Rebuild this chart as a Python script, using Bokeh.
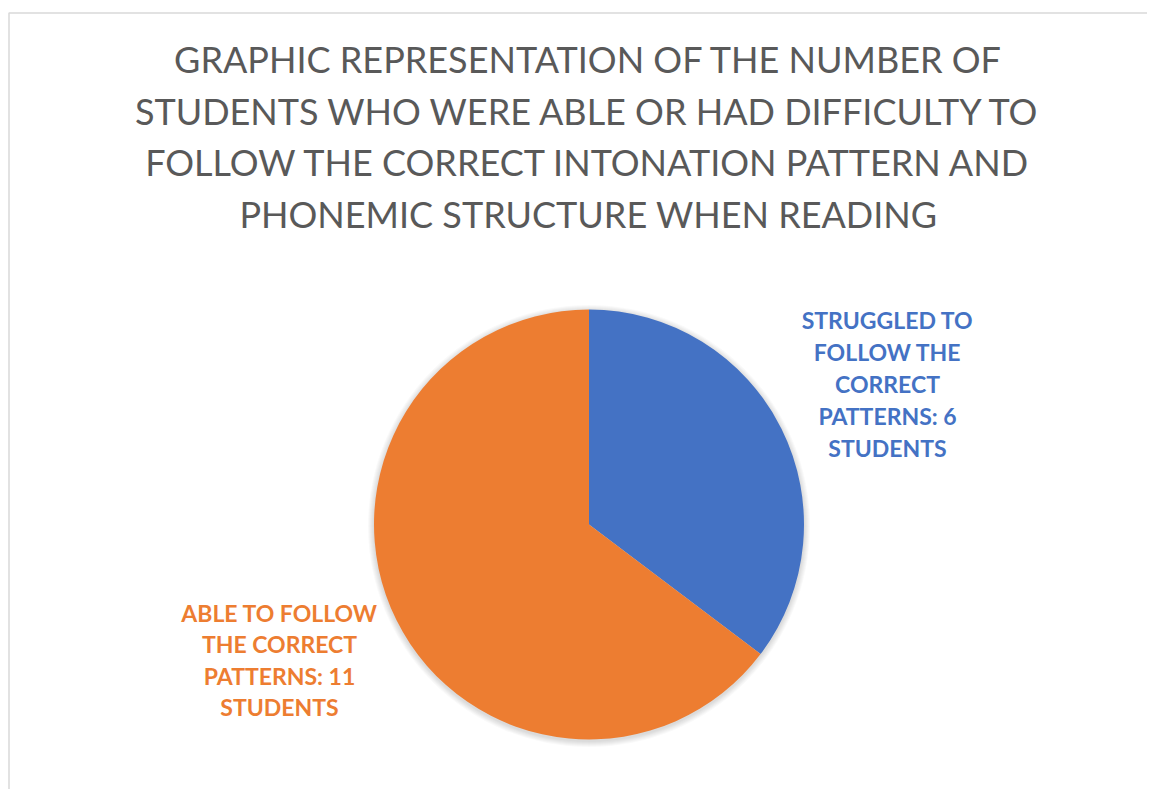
from bokeh.plotting import figure
from bokeh.models import Range1d
from bokeh.core.properties import value
from bokeh.embed import file_html
from bokeh.resources import INLINE
import math

# ---- data ----
categories = ["STRUGGLED TO FOLLOW THE CORRECT PATTERNS", "ABLE TO FOLLOW THE CORRECT PATTERNS"]
students = [6, 11]
label_lines = [
    ["STRUGGLED TO", "FOLLOW THE", "CORRECT", "PATTERNS: 6", "STUDENTS"],
    ["ABLE TO FOLLOW", "THE CORRECT", "PATTERNS: 11", "STUDENTS"],
]
title_lines = [
    "GRAPHIC REPRESENTATION OF THE NUMBER OF",
    "STUDENTS WHO WERE ABLE OR HAD DIFFICULTY TO",
    "FOLLOW THE CORRECT INTONATION PATTERN AND",
    "PHONEMIC STRUCTURE WHEN READING",
]

# ---- style / layout ----
colors = ["#4472C4", "#ED7D31"]
W, H = 1147, 789
OFF = 0  # page offset of the canvas


def X(px):
    return px - OFF


def Y(py):
    return H - (py - OFF)


p = figure(width=W, height=H, x_range=Range1d(0, W), y_range=Range1d(0, H),
           toolbar_location=None, output_backend="svg", min_border=0)
p.min_border_left = p.min_border_right = p.min_border_top = p.min_border_bottom = 0
p.axis.visible = False
p.grid.visible = False
p.outline_line_color = None
p.background_fill_color = "white"

# chart border (top and left visible)
p.line([X(8.5), X(8.5), X(1160)], [Y(800), Y(12.5), Y(12.5)], line_color="#d9d9d9", line_width=1.5)

# title
tys = [58, 110, 161, 213]
p.text(x=[X(588)] * len(title_lines), y=[Y(t) for t in tys], text=title_lines,
       text_align="center", text_baseline="alphabetic", text_color="#595959",
       text_font=value("Lato"), text_font_size="36px")

# pie
cx, cy, r = X(588.5), Y(524), 215
# soft shadow
for k in range(1, 7):
    p.circle(x=[cx], y=[cy - 1.5], radius=r + k, fill_color="#000000",
             fill_alpha=0.025, line_color=None)

total = sum(students)
angles = []
a = math.pi / 2
for v in students:
    e = a - 2 * math.pi * v / total
    angles.append((a, e))
    a = e
p.wedge(x=[cx] * len(students), y=[cy] * len(students), radius=r,
        start_angle=[s for s, e in angles], end_angle=[e for s, e in angles],
        direction="clock", fill_color=colors, line_color=None)

# data labels
label_pos = [(887, [319, 351, 383, 415, 447]), (279, [612, 643, 675, 706])]
for lines, (lx, lys), c in zip(label_lines, label_pos, colors):
    p.text(x=[X(lx)] * len(lines), y=[Y(t) for t in lys], text=lines,
           text_align="center", text_baseline="alphabetic", text_color=c,
           text_font=value("Lato"), text_font_style="bold", text_font_size="23px")

open("out.html", "w").write(file_html(p, INLINE))
